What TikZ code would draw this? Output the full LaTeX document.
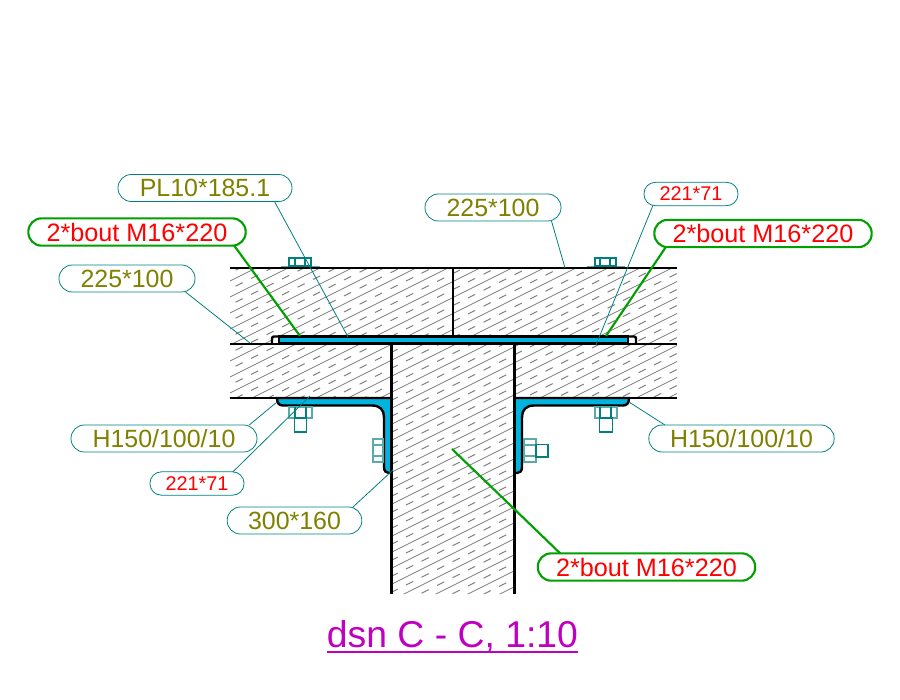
\documentclass[tikz,border=0pt]{standalone}
\usepackage{fontspec}
\setmainfont{Liberation Sans}

\tikzset{every picture/.style={line width=0.75pt}}
\tikzset{
  hatch solid/.style={color={rgb, 255:red, 128; green, 128; blue, 128 },line width=0.6pt},
  hatch dash/.style={hatch solid,line width=0.8pt,dash pattern={on 6pt off 7pt}},
  heavy line/.style={line width=1.8pt},
  steel/.style={fill={rgb, 255:red, 0; green, 180; blue, 222 },draw=black,line width=1.8pt},
  gap/.style={fill=white,draw=black,line width=1.8pt,rounded corners=1.5pt},
  bolt/.style={color={rgb, 255:red, 0; green, 128; blue, 128 },line width=0.8pt},
  washer/.style={color={rgb, 255:red, 90; green, 170; blue, 170 },line width=1.1pt},
  leader/.style={color={rgb, 255:red, 0; green, 128; blue, 128 },line width=0.6pt},
  green leader/.style={color={rgb, 255:red, 0; green, 160; blue, 0 },line width=1.6pt},
  size tag/.style={draw={rgb, 255:red, 0; green, 128; blue, 128 },line width=0.6pt,rounded corners=10pt,inner sep=0pt,outer sep=0pt,
    minimum height=20.25pt,text={rgb, 255:red, 128; green, 128; blue, 0 },font=\fontsize{18.7}{20}\selectfont},
  bolt tag/.style={draw={rgb, 255:red, 0; green, 160; blue, 0 },line width=1.6pt,rounded corners=10pt,inner sep=0pt,outer sep=0pt,
    minimum width=163pt,minimum height=20.5pt,text=red,font=\fontsize{18.9}{20}\selectfont},
  small tag/.style={draw={rgb, 255:red, 0; green, 128; blue, 128 },line width=0.6pt,rounded corners=8.5pt,inner sep=0pt,outer sep=0pt,
    minimum width=70.5pt,minimum height=17.5pt,text=red,font=\fontsize{14.9}{16}\selectfont},
}

\begin{document}
\begin{tikzpicture}[x=0.75pt,y=0.75pt,yscale=-1,xscale=1]
\useasboundingbox (0,0) rectangle (900,700);

% Hatching
\begin{scope}
\clip (230,268) -- (677,268) -- (677,398) -- (514,398) -- (514,594) -- (391,594) -- (391,398) -- (230,398) -- cycle;
\foreach \h in {270,286,...,830} {
  \draw [hatch solid] (220,\h) -- ++(470,-235);
  \draw [hatch dash] (220,\h+8) -- ++(470,-235);
}
\end{scope}

% Plate and angles
\draw [gap] (272,344) -- (272,336.5) -- (636,336.5) -- (636,344);
\draw [steel] (279,336.5) rectangle (628,343.5);
\draw [steel] (277,398) .. controls (277,403) and (279,405.5) .. (283,405.5) -- (372,405.5) .. controls (380,405.5) and (384,410) .. (384,417) -- (384,467) .. controls (384,471) and (386,473) .. (389,473) -- (391.5,473) -- (391.5,398) -- cycle;
\draw [steel] (629,398) .. controls (629,403) and (627,405.5) .. (623,405.5) -- (534,405.5) .. controls (526,405.5) and (522,410) .. (522,417) -- (522,467) .. controls (522,471) and (520,473) .. (517,473) -- (514.5,473) -- (514.5,398) -- cycle;

% Concrete outlines
\draw [heavy line] (230,268) -- (677,268);
\draw [heavy line] (453,268) -- (453,336);
\draw [heavy line] (230,344) -- (677,344);
\draw [heavy line] (230,398) -- (391,398);
\draw [heavy line] (514,398) -- (677,398);
\draw [line width=2.1pt] (391.5,344) -- (391.5,594);
\draw [line width=2.1pt] (514.5,344) -- (514.5,594);

% Bolts, top
\draw [washer] (281,266.5) -- (320,266.5);
\draw [bolt] (289,266) rectangle (311,258);
\draw [bolt] (295,266) -- (295,258) (305,266) -- (305,258);
\draw [washer] (587,266.5) -- (625,266.5);
\draw [bolt] (595,266) rectangle (616,258);
\draw [bolt] (600,266) -- (600,258) (610,266) -- (610,258);

% Bolts, angles
\draw [washer] (289,407) rectangle (312,418);
\draw [bolt] (295,407) -- (295,418) (306,407) -- (306,418);
\draw [bolt] (294.5,418) rectangle (306.5,432);
\draw [washer] (373,439) rectangle (383,462);
\draw [washer] (373,445) -- (383,445) (373,456) -- (383,456);
\draw [washer] (595,407) rectangle (617,418);
\draw [bolt] (600,407) -- (600,418) (611,407) -- (611,418);
\draw [bolt] (599.5,418) rectangle (612.5,432);
\draw [washer] (524,439) rectangle (536,462);
\draw [washer] (524,445) -- (536,445) (524,456) -- (536,456);
\draw [bolt] (536,444.5) rectangle (548,457);

% Text Node
\draw (205,188) node (platetag) [size tag,minimum width=130.5pt] {PL10*185.1};
% Text Node
\draw (137,232) node (bolttagleft) [bolt tag] {2*bout M16*220};
% Text Node
\draw (127,278.5) node (slabtagleft) [size tag,minimum width=102pt] {225*100};
% Text Node
\draw (493,207.5) node (slabtagtop) [size tag,minimum width=102pt] {225*100};
% Text Node
\draw (691,194) node (smalltagtop) [small tag] {221*71};
% Text Node
\draw (763,233.5) node (bolttagright) [bolt tag] {2*bout M16*220};
% Text Node
\draw (164,438.5) node (angletagleft) [size tag,minimum width=139.5pt] {H150/100/10};
% Text Node
\draw (197,483.5) node (smalltagbottom) [small tag] {221*71};
% Text Node
\draw (294.5,520.5) node (cleattag) [size tag,minimum width=101pt] {300*160};
% Text Node
\draw (741.5,438.5) node (angletagright) [size tag,minimum width=139pt] {H150/100/10};
% Text Node
\draw (646.5,567) node (bolttaglow) [bolt tag] {2*bout M16*220};
% Text Node
\draw (452.5,647) node (titletext) [anchor=base,inner sep=0pt,text={rgb, 255:red, 192; green, 0; blue, 192 },font=\fontsize{28}{30}\selectfont] {dsn C - C, 1:10};
\draw [color={rgb, 255:red, 192; green, 0; blue, 192 },line width=1.3pt] (327,652) -- (578,652);

% Leader ends
\coordinate (plateend) at (348,337);
\coordinate (slableftend) at (250,343);
\coordinate (boltleftend) at (300,336);
\coordinate (slabtopend) at (565,268);
\coordinate (smalltopend) at (596,345);
\coordinate (boltrightend) at (606,336);
\coordinate (angleleftend) at (277,402);
\coordinate (smallbottomend) at (310,396);
\coordinate (cleatend) at (393,470);
\coordinate (anglerightend) at (629,402);
\coordinate (boltlowend) at (452,449);

% Leaders
\draw [leader] (platetag.-11) -- (plateend);
\draw [leader] (slabtagleft.-13.8) -- (slableftend);
\draw [leader] (slabtagtop.-13.8) -- (slabtopend);
\draw [leader] (smalltagtop.197.5) -- (smalltopend);
\draw [leader] (angletagleft.9.8) -- (angleleftend);
\draw [leader] (smalltagbottom.18.2) -- (smallbottomend);
\draw [leader] (cleattag.13.9) -- (cleatend);
\draw [leader] (angletagright.170.4) -- (anglerightend);
\draw [green leader] (bolttagleft.-8.3) -- (boltleftend);
\draw [green leader] (bolttagright.188.1) -- (boltrightend);
\draw [green leader] (bolttaglow.171.7) -- (boltlowend);

\end{tikzpicture}
\end{document}
